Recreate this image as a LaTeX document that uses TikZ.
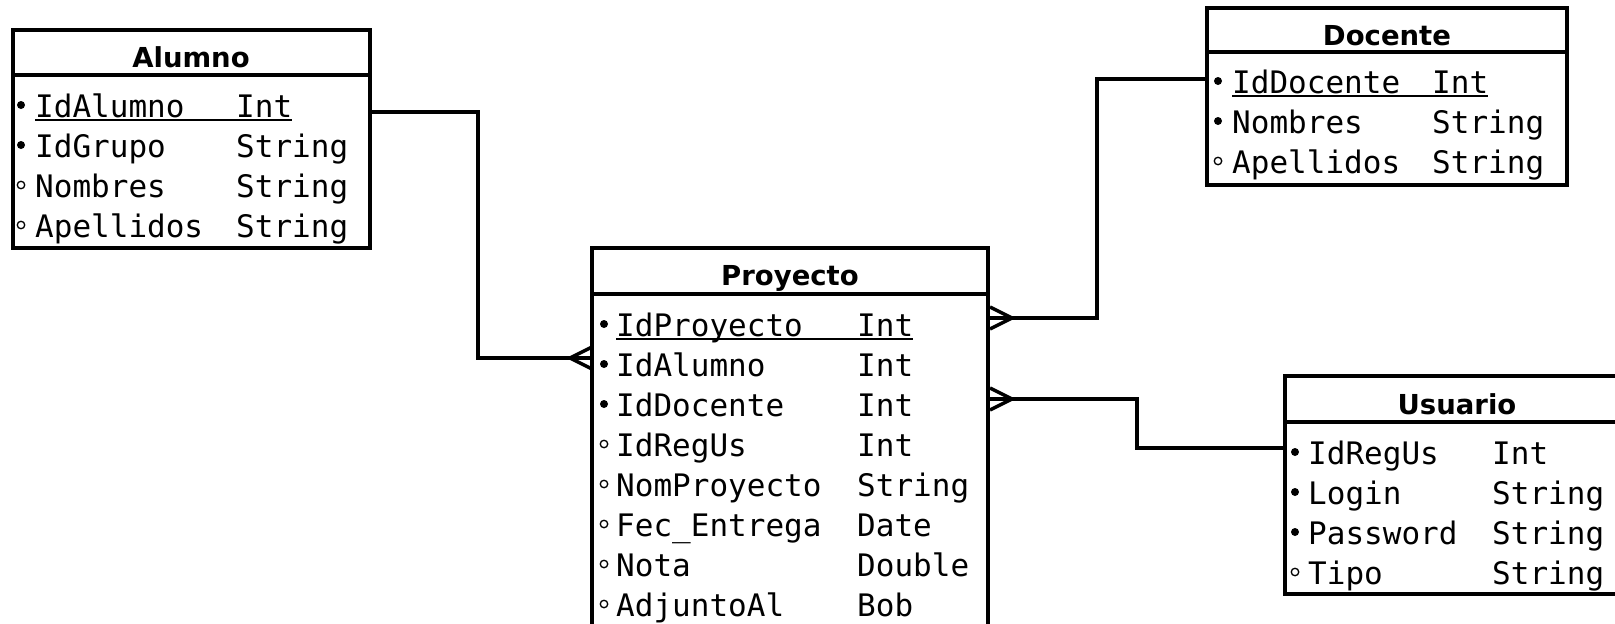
\documentclass[tikz,border=0pt]{standalone}
\usepackage{fontspec}
\newfontfamily\monof{DejaVu Sans Mono}
\newfontfamily\headf{DejaVu Sans}
\newcommand\attrrow[8]{%
  \node[#2] (#1m) at (#4,#3-1) {};
  \node[attrtext] (#1n) at (#5,#3+11) {#7};
  \node[attrtext] (#1t) at (#6,#3+11) {#8};}
\begin{document}
\begin{tikzpicture}[x=1pt,y=-1pt,
  tbl/.style={draw, line width=4pt, rectangle, inner sep=0pt, outer sep=0pt, anchor=north west},
  sepline/.style={line width=4pt},
  conn/.style={line width=4pt},
  crowline/.style={line width=3.5pt},
  uline/.style={line width=2pt},
  keydot/.style={circle, fill, inner sep=0pt, minimum size=8pt},
  optdot/.style={circle, draw, line width=1.3pt, inner sep=0pt, minimum size=7.5pt},
  attrtext/.style={anchor=base west, inner sep=0pt, font=\monof\fontsize{31}{31}\selectfont},
  headtext/.style={anchor=base, inner sep=0pt, font=\headf\bfseries\fontsize{27.5}{27.5}\selectfont},
  crowL/.pic={\draw[crowline] (0,0) -- (22,-11) (0,0) -- (22,0) (0,0) -- (22,11);},
  crowR/.pic={\draw[crowline] (0,0) -- (-22,-11) (0,0) -- (-22,0) (0,0) -- (-22,11);}
]
\useasboundingbox (0,0) rectangle (1615,624);
\fill[white] (0,0) rectangle (1615,624);
\clip (0,0) rectangle (1615,624);

% Alumno
\node[tbl, minimum width=357pt, minimum height=218pt] (alumno) at (13,30) {};
\draw[sepline] (alumno.west |- 0,75) -- (alumno.east |- 0,75);
\node[headtext] (alumnoh) at (191,67) {Alumno};
\attrrow{a1}{keydot}{106}{21}{35}{236}{IdAlumno}{Int}
\attrrow{a2}{keydot}{146}{21}{35}{236}{IdGrupo}{String}
\attrrow{a3}{optdot}{186}{21}{35}{236}{Nombres}{String}
\attrrow{a4}{optdot}{226}{21}{35}{236}{Apellidos}{String}
\draw[uline] ([yshift=-3pt]a1n.base west) -- ([yshift=-3pt]a1t.base east);

% Proyecto
\node[tbl, minimum width=396pt, minimum height=420pt] (proyecto) at (592,248) {};
\draw[sepline] (proyecto.west |- 0,294) -- (proyecto.east |- 0,294);
\node[headtext] (proyectoh) at (790,285) {Proyecto};
\attrrow{p1}{keydot}{325}{604}{616}{857}{IdProyecto}{Int}
\attrrow{p2}{keydot}{365}{604}{616}{857}{IdAlumno}{Int}
\attrrow{p3}{keydot}{405}{604}{616}{857}{IdDocente}{Int}
\attrrow{p4}{optdot}{445}{604}{616}{857}{IdRegUs}{Int}
\attrrow{p5}{optdot}{485}{604}{616}{857}{NomProyecto}{String}
\attrrow{p6}{optdot}{525}{604}{616}{857}{Fec\_Entrega}{Date}
\attrrow{p7}{optdot}{565}{604}{616}{857}{Nota}{Double}
\attrrow{p8}{optdot}{605}{604}{616}{857}{AdjuntoAl}{Bob}
\draw[uline] ([yshift=-3pt]p1n.base west) -- ([yshift=-3pt]p1t.base east);

% Docente
\node[tbl, minimum width=360pt, minimum height=177pt] (docente) at (1207,8) {};
\draw[sepline] (docente.west |- 0,52) -- (docente.east |- 0,52);
\node[headtext] (docenteh) at (1387,45) {Docente};
\attrrow{d1}{keydot}{82}{1218}{1232}{1432}{IdDocente}{Int}
\attrrow{d2}{keydot}{122}{1218}{1232}{1432}{Nombres}{String}
\attrrow{d3}{optdot}{162}{1218}{1232}{1432}{Apellidos}{String}
\draw[uline] ([yshift=-3pt]d1n.base west) -- ([yshift=-3pt]d1t.base east);

% Usuario
\node[tbl, minimum width=345pt, minimum height=218pt] (usuario) at (1285,376) {};
\draw[sepline] (usuario.west |- 0,422) -- (usuario.east |- 0,422);
\node[headtext] (usuarioh) at (1457,414) {Usuario};
\attrrow{u1}{keydot}{453}{1295}{1308}{1492}{IdRegUs}{Int}
\attrrow{u2}{keydot}{493}{1295}{1308}{1492}{Login}{String}
\attrrow{u3}{keydot}{533}{1295}{1308}{1492}{Password}{String}
\attrrow{u4}{optdot}{573}{1295}{1308}{1492}{Tipo}{String}

% Connectors
\draw[conn] (alumno.east |- 0,112) -- (478,112) -- (478,358) -- (proyecto.west |- 0,358);
\pic at (570,358) {crowL};
\draw[conn] (proyecto.east |- 0,318) -- (1097,318) -- (1097,79) -- (docente.west |- 0,79);
\pic at (1012,318) {crowR};
\draw[conn] (proyecto.east |- 0,399) -- (1137,399) -- (1137,448) -- (usuario.west |- 0,448);
\pic at (1012,399) {crowR};
\end{tikzpicture}
\end{document}
